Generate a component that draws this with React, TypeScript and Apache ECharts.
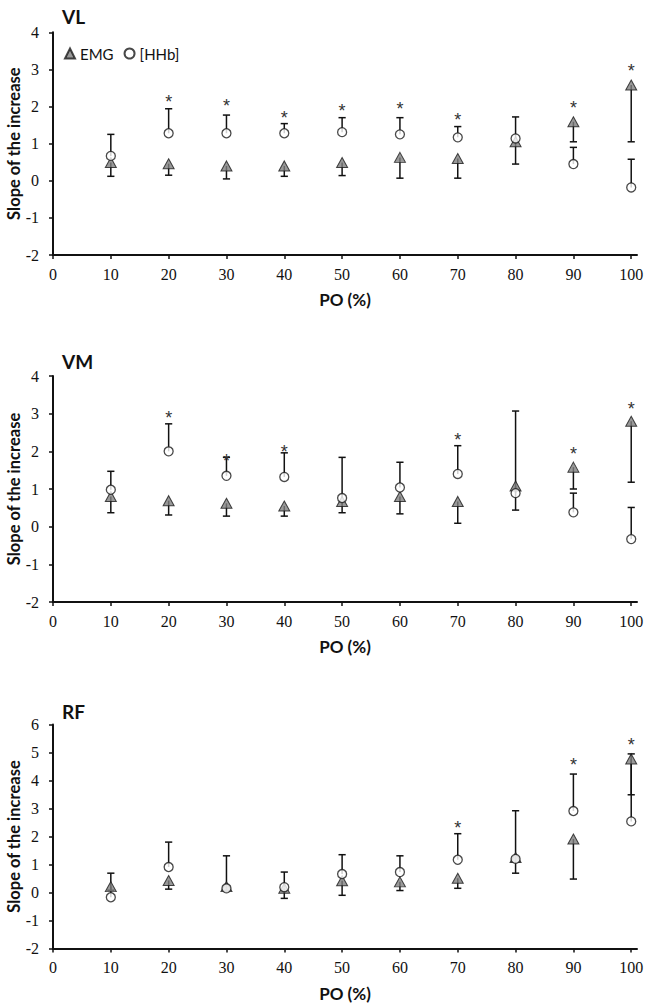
import React, { useEffect, useRef } from "react";
import * as echarts from "echarts";

const PO = [10, 20, 30, 40, 50, 60, 70, 80, 90, 100];
const X_TICKS = [0, 10, 20, 30, 40, 50, 60, 70, 80, 90, 100];

// VL
const VL_EMG = [0.49, 0.46, 0.4, 0.4, 0.49, 0.63, 0.6, 1.05, 1.59, 2.58];
const VL_EMG_LOW = [0.12, 0.15, 0.05, 0.12, 0.14, 0.07, 0.07, 0.45, 1.05, 1.05];
const VL_HHB = [0.67, 1.28, 1.28, 1.28, 1.31, 1.25, 1.17, 1.14, 0.45, -0.18];
const VL_HHB_HIGH = [1.25, 1.94, 1.77, 1.54, 1.7, 1.7, 1.46, 1.72, 0.9, 0.58];
const VL_STAR_X = [20, 30, 40, 50, 60, 70, 90, 100];
const VL_STAR_Y = [2.23, 2.12, 1.81, 1.99, 2.03, 1.75, 2.06, 3.07];

// VM
const VM_EMG = [0.8, 0.69, 0.62, 0.55, 0.67, 0.8, 0.67, 1.08, 1.58, 2.8];
const VM_EMG_LOW = [0.37, 0.31, 0.28, 0.28, 0.37, 0.34, 0.09, 0.44, 1.0, 1.18];
const VM_HHB = [0.98, 2.0, 1.35, 1.32, 0.76, 1.04, 1.4, 0.89, 0.38, -0.33];
const VM_HHB_HIGH = [1.47, 2.73, 1.84, 1.96, 1.84, 1.71, 2.15, 3.07, 0.89, 0.51];
const VM_STAR_X = [20, 30, 40, 70, 90, 100];
const VM_STAR_Y = [2.98, 1.84, 2.09, 2.42, 2.04, 3.24];

// RF
const RF_EMG = [0.21, 0.43, 0.21, 0.15, 0.42, 0.38, 0.51, 1.25, 1.91, 4.77];
const RF_EMG_LOW = [0.08, 0.12, 0.07, -0.21, -0.1, 0.07, 0.15, 0.69, 0.48, 3.49];
const RF_HHB = [-0.17, 0.91, 0.15, 0.19, 0.66, 0.73, 1.17, 1.2, 2.91, 2.54];
const RF_HHB_HIGH = [0.69, 1.8, 1.31, 0.73, 1.35, 1.31, 2.1, 2.92, 4.23, 4.95];
const RF_STAR_X = [70, 90, 100];
const RF_STAR_Y = [2.46, 4.68, 5.4];

const Y_TITLE = "Slope of the increase";

const PANELS = [
  { title: "VL", emg: VL_EMG, emgLow: VL_EMG_LOW, hhb: VL_HHB, hhbHigh: VL_HHB_HIGH, starX: VL_STAR_X, starY: VL_STAR_Y, yMax: 4 },
  { title: "VM", emg: VM_EMG, emgLow: VM_EMG_LOW, hhb: VM_HHB, hhbHigh: VM_HHB_HIGH, starX: VM_STAR_X, starY: VM_STAR_Y, yMax: 4 },
  { title: "RF", emg: RF_EMG, emgLow: RF_EMG_LOW, hhb: RF_HHB, hhbHigh: RF_HHB_HIGH, starX: RF_STAR_X, starY: RF_STAR_Y, yMax: 6 },
];

const PAGE_H = 1008;
const GRIDS = [
  { left: 53, right: 10, top: 32.3, bottom: 753 },
  { left: 53, right: 10, top: 376, bottom: 406 },
  { left: 53, right: 10, top: 724.5, bottom: 59.5 },
];
const TITLE_TOPS = [7, 351.5, 701.5];

const SANS = "Lato";
const SERIF = "Liberation Serif";
const INK = "#111";

function errorBarRender(params: any, api: any) {
  const x = api.value(0);
  const a = api.value(1);
  const b = api.value(2);
  const p1 = api.coord([x, a]);
  const p2 = api.coord([x, b]);
  const st = { stroke: INK, lineWidth: 1.5 };
  return {
    type: "group",
    children: [
      { type: "line", shape: { x1: p1[0], y1: p1[1], x2: p2[0], y2: p2[1] }, style: st },
      { type: "line", shape: { x1: p2[0] - 3.6, y1: p2[1], x2: p2[0] + 3.6, y2: p2[1] }, style: st },
    ],
  };
}

function starRender(params: any, api: any) {
  const p = api.coord([api.value(0), api.value(1)]);
  return {
    type: "text",
    x: p[0],
    y: p[1] + 4,
    style: {
      text: "*",
      fontSize: 18,
      fontFamily: "Liberation Sans",
      fill: "#333",
      align: "center",
      verticalAlign: "middle",
    },
  };
}

export default function App() {
  const ref = useRef<HTMLDivElement>(null);

  useEffect(() => {
    document.body.style.margin = "0";
    if (!ref.current) return;
    const chart = echarts.init(ref.current, null, { renderer: "svg" });

    const xAxis: any[] = [];
    const yAxis: any[] = [];
    const series: any[] = [];

    PANELS.forEach((p, i) => {
      xAxis.push({
        gridIndex: i,
        type: "value",
        min: 0,
        max: 101,
        name: "PO (%)",
        nameLocation: "middle",
        nameGap: 36,
        nameTextStyle: { fontFamily: SANS, fontWeight: "bold", fontSize: 17, color: INK },
        splitLine: { show: false },
        axisLine: { show: true, onZero: false, lineStyle: { color: INK, width: 2 } },
        axisTick: { show: true, length: 4, customValues: X_TICKS, lineStyle: { color: INK, width: 1.5 } },
        axisLabel: { customValues: X_TICKS, margin: 11, fontFamily: SERIF, fontSize: 16, color: INK },
      });
      yAxis.push({
        gridIndex: i,
        type: "value",
        min: -2,
        max: p.yMax,
        interval: 1,
        splitLine: { show: false },
        axisLine: { show: true, onZero: false, lineStyle: { color: INK, width: 2 } },
        axisTick: { show: true, length: 4, lineStyle: { color: INK, width: 1.5 } },
        axisLabel: { margin: 14, fontFamily: SERIF, fontSize: 16, color: INK },
      });

      series.push({
        type: "custom",
        name: "errEMG" + i,
        xAxisIndex: i,
        yAxisIndex: i,
        renderItem: errorBarRender,
        encode: { x: 0, y: [1, 2] },
        data: PO.map((x, k) => [x, p.emg[k], p.emgLow[k]]),
        z: 2,
        silent: true,
      });
      series.push({
        type: "custom",
        name: "errHHb" + i,
        xAxisIndex: i,
        yAxisIndex: i,
        renderItem: errorBarRender,
        encode: { x: 0, y: [1, 2] },
        data: PO.map((x, k) => [x, p.hhb[k], p.hhbHigh[k]]),
        z: 2,
        silent: true,
      });
      series.push({
        type: "scatter",
        name: "EMG",
        xAxisIndex: i,
        yAxisIndex: i,
        symbol: "triangle",
        symbolSize: [11, 10],
        itemStyle: { color: "#7f7f7f", borderColor: "#1a1a1a", borderWidth: 1 },
        data: PO.map((x, k) => [x, p.emg[k]]),
        z: 4,
      });
      series.push({
        type: "scatter",
        name: "[HHb]",
        xAxisIndex: i,
        yAxisIndex: i,
        symbol: "circle",
        symbolSize: 9,
        itemStyle: { color: "#ffffff", borderColor: "#1a1a1a", borderWidth: 1.3 },
        data: PO.map((x, k) => [x, p.hhb[k]]),
        z: 5,
      });
      series.push({
        type: "custom",
        name: "stars" + i,
        xAxisIndex: i,
        yAxisIndex: i,
        renderItem: starRender,
        encode: { x: 0, y: 1 },
        data: p.starX.map((x, k) => [x, p.starY[k]]),
        z: 6,
        silent: true,
      });
    });

    const yTitles = GRIDS.map((g) => ({
      type: "text",
      x: 13.5,
      y: (g.top + (PAGE_H - g.bottom)) / 2,
      rotation: Math.PI / 2,
      silent: true,
      style: {
        text: Y_TITLE,
        fontFamily: SANS,
        fontWeight: "bold",
        fontSize: 16.5,
        fill: INK,
        align: "center",
        verticalAlign: "middle",
      },
    }));

    chart.setOption({
      animation: false,
      backgroundColor: "#ffffff",
      title: PANELS.map((p, i) => ({
        text: p.title,
        left: 62,
        top: TITLE_TOPS[i],
        padding: 0,
        textStyle: { fontFamily: SANS, fontWeight: "bold", fontSize: 19, color: INK },
      })),
      legend: {
        data: ["EMG", "[HHb]"],
        left: 64,
        top: 46,
        padding: 0,
        itemWidth: 10,
        itemHeight: 10,
        itemGap: 10,
        selectedMode: false,
        textStyle: { fontFamily: SANS, fontSize: 15, color: INK },
      },
      grid: GRIDS.map((g) => ({ ...g, containLabel: false, outerBoundsMode: "none" })),
      graphic: yTitles,
      xAxis,
      yAxis,
      series,
    });

    return () => chart.dispose();
  }, []);

  return <div ref={ref} style={{ width: 647, height: 1008 }} />;
}
